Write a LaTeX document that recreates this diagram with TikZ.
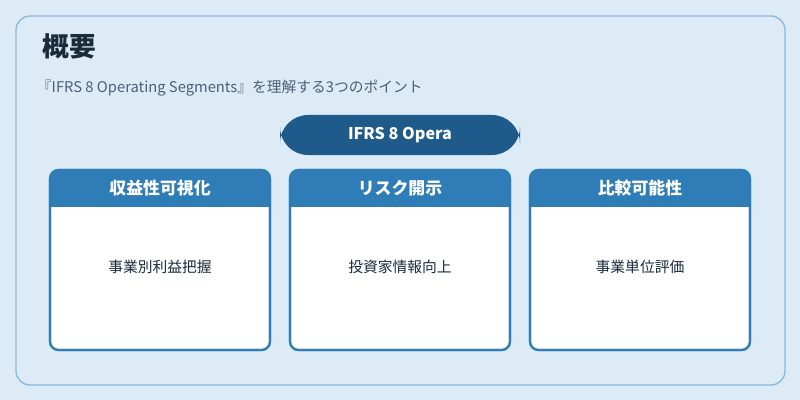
\documentclass[tikz,border=0pt]{standalone}
\usepackage{fontspec}
\setmainfont{Noto Sans CJK JP}
\usetikzlibrary{positioning}
\definecolor{bgblue}{HTML}{DCEBF6}
\definecolor{frameblue}{HTML}{8DBBDD}
\definecolor{pillblue}{HTML}{1E5A8A}
\definecolor{headblue}{HTML}{2E7DB6}
\definecolor{titletext}{HTML}{1A2B3C}
\definecolor{subtext}{HTML}{4A6178}
\tikzset{
  card/.style={draw=headblue, line width=1.5pt, fill=white, rounded corners=6pt},
  cardhead/.style={fill=headblue, text=white, font=\fontsize{12}{14}\selectfont\bfseries},
  cardbody/.style={text=titletext, font=\fontsize{10.5}{12}\selectfont},
}
\begin{document}
\begin{tikzpicture}[x=0.025cm,y=-0.025cm]
\fill[bgblue] (0,0) rectangle (800,400);
\draw[frameblue, line width=1pt, fill=bgblue, rounded corners=10pt] (16,16) rectangle (785,385);
\node[anchor=west, text=titletext, font=\fontsize{19}{22}\selectfont\bfseries] (title) at (38,46) {概要};
\node[anchor=west, text=subtext, font=\fontsize{10.5}{12}\selectfont] (sub) at (32,88) {『IFRS 8 Operating Segments』を理解する3つのポイント};
\fill[pillblue, rounded corners=20pt] (280,115) rectangle (520,155);
\node[text=white, font=\fontsize{11.5}{14}\selectfont\bfseries] (pill) at (400,135) {IFRS 8 Opera};
% three cards
\foreach \x/\head/\body [count=\i] in {50/収益性可視化/事業別利益把握, 290/リスク開示/投資家情報向上, 530/比較可能性/事業単位評価}{
  \draw[card] (\x,170) rectangle (\x+220,350);
  \begin{scope}
    \clip[rounded corners=6pt] (\x,170) rectangle (\x+220,350);
    \fill[headblue] (\x,170) rectangle (\x+220,207);
  \end{scope}
  \draw[headblue, line width=1.5pt, rounded corners=6pt] (\x,170) rectangle (\x+220,350);
  \node[cardhead] (head\i) at (\x+110,188) {\head};
  \node[cardbody] (body\i) at (\x+110,267) {\body};
}
\end{tikzpicture}
\end{document}
